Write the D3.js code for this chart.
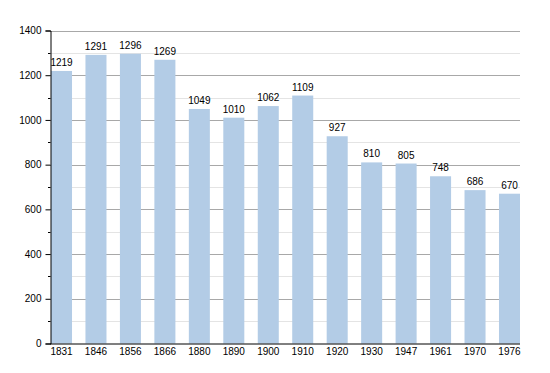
<!DOCTYPE html>
<html lang="en">
<head>
  <meta charset="utf-8">
  <title>Population</title>
  <script src="https://d3js.org/d3.v7.min.js"></script>
  <style>
    body { margin: 0; background: #fff; }
    text { font-family: "Liberation Sans", Arial, sans-serif; font-size: 10px; fill: #000; }
  </style>
</head>
<body>
<script>
  var years = ["1831","1846","1856","1866","1880","1890","1900","1910","1920","1930","1947","1961","1970","1976"];
  var population = [1219,1291,1296,1269,1049,1010,1062,1109,927,810,805,748,686,670];
  var yTicks = [0,200,400,600,800,1000,1200,1400];

  var width = 550, height = 373;
  var plotLeft = 50, plotRight = 520, plotTop = 30.5, plotBottom = 343.5;

  var svg = d3.select("body").append("svg")
    .attr("width", width)
    .attr("height", height);

  var y = d3.scaleLinear().domain([0, 1400]).range([plotBottom, plotTop]);

  var x = d3.scaleBand()
    .domain(years)
    .range([51, plotRight])
    .paddingInner(0.39)
    .paddingOuter(0)
    .align(0);

  function yPix(d) { return Math.round(y(d)) + 0.5; }

  // minor grid (every 100)
  svg.append("g")
    .selectAll("line")
    .data(d3.range(100, 1400, 200))
    .enter().append("line")
    .attr("x1", plotLeft).attr("x2", plotRight)
    .attr("y1", yPix).attr("y2", yPix)
    .attr("stroke", "#e4e4e4");

  // major grid
  svg.append("g")
    .selectAll("line")
    .data(yTicks.slice(1))
    .enter().append("line")
    .attr("x1", plotLeft).attr("x2", plotRight)
    .attr("y1", yPix).attr("y2", yPix)
    .attr("stroke", "#a8a8a8");

  // bars
  svg.append("g")
    .selectAll("rect")
    .data(population)
    .enter().append("rect")
    .attr("x", function(d, i) { return x(years[i]); })
    .attr("width", x.bandwidth())
    .attr("y", function(d) { return y(d); })
    .attr("height", function(d) { return plotBottom - y(d); })
    .attr("fill", "#b3cce6");

  // bar labels
  svg.append("g")
    .selectAll("text")
    .data(population)
    .enter().append("text")
    .attr("x", function(d, i) { return x(years[i]) + x.bandwidth() / 2; })
    .attr("y", function(d) { return y(d) - 5; })
    .attr("text-anchor", "middle")
    .text(function(d) { return d; });

  // y axis
  var yAxis = svg.append("g")
    .attr("transform", "translate(" + (plotLeft + 0.5) + ",0)")
    .call(d3.axisLeft(y).tickValues(yTicks).tickSize(5).tickPadding(4).tickFormat(d3.format("d")));
  yAxis.select(".domain").attr("stroke", "#000");
  yAxis.selectAll(".tick text").style("font-size", "10px").attr("fill", "#000");

  // minor ticks
  svg.append("g")
    .selectAll("line")
    .data(d3.range(100, 1400, 200))
    .enter().append("line")
    .attr("x1", plotLeft - 2).attr("x2", plotLeft + 0.5)
    .attr("y1", yPix).attr("y2", yPix)
    .attr("stroke", "#000");

  // x axis
  var xAxis = svg.append("g")
    .attr("transform", "translate(0," + (plotBottom + 0.5) + ")")
    .call(d3.axisBottom(x).tickSize(0).tickPadding(4));
  xAxis.select(".domain").attr("d", "M" + plotLeft + ",0H" + plotRight).attr("stroke", "#000");
  xAxis.selectAll(".tick text").style("font-size", "10px").attr("fill", "#000");
</script>
</body>
</html>
